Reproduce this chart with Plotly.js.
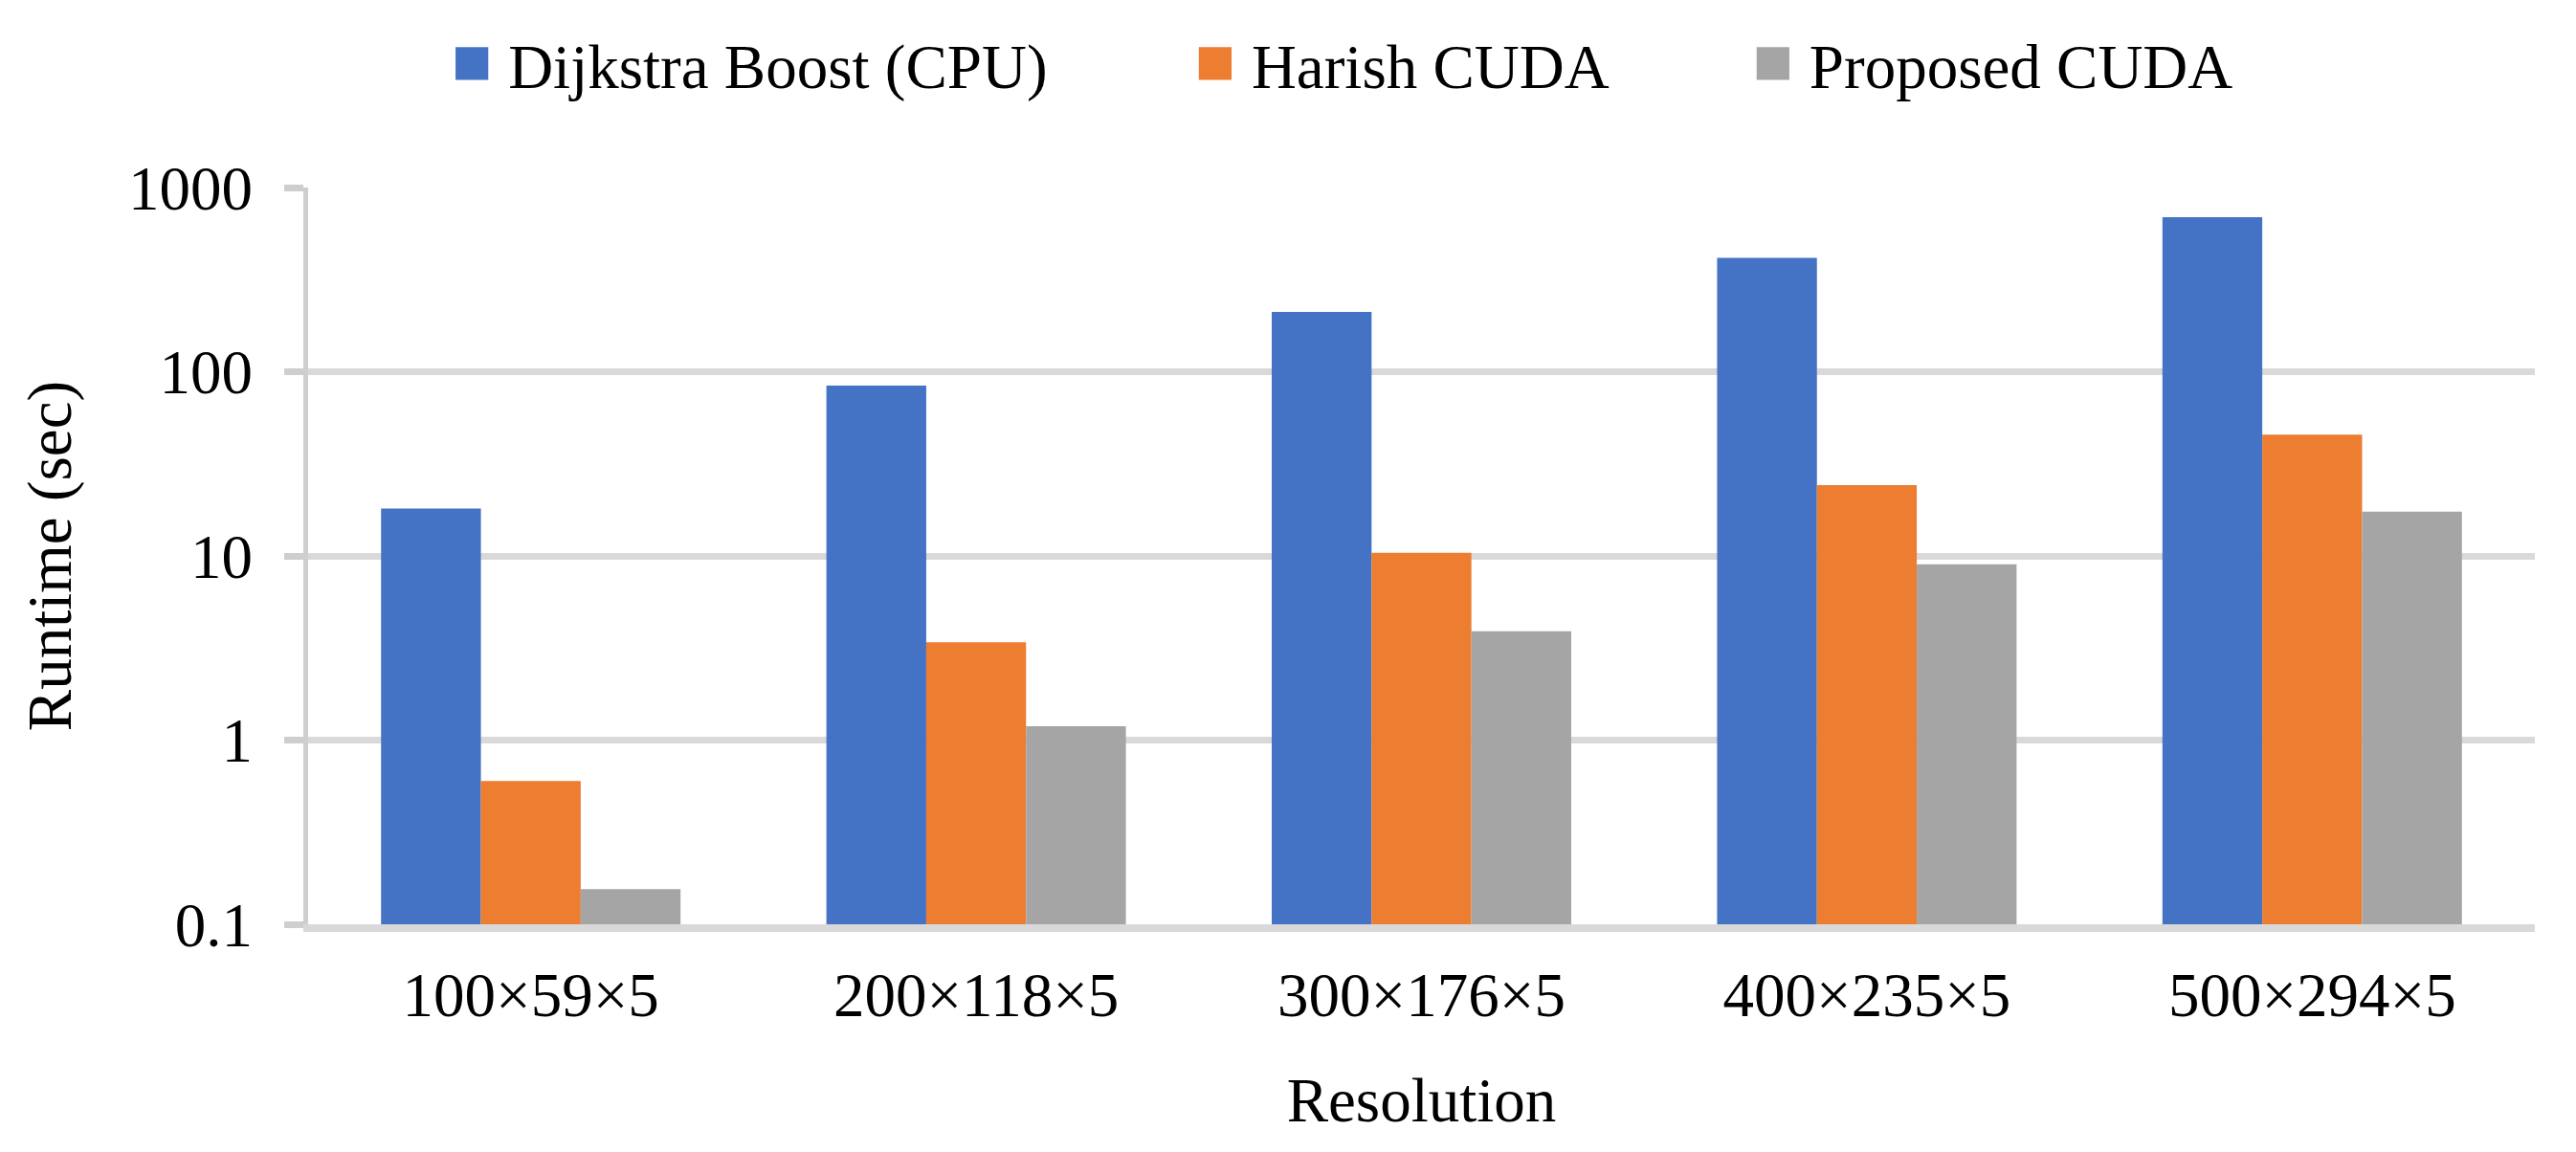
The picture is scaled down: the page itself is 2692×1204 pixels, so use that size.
<!DOCTYPE html>
<html>
<head>
<meta charset="utf-8">
<script src="https://cdn.plot.ly/plotly-3.0.1.min.js"></script>
<style>
  html, body { margin: 0; padding: 0; background: #ffffff; }
  #chart { width: 2692px; height: 1204px; }
</style>
</head>
<body>
<div id="chart"></div>
<script>
// ---- Data ----
const categories = ["100×59×5", "200×118×5", "300×176×5", "400×235×5", "500×294×5"];
const seriesNames = ["Dijkstra Boost (CPU)", "Harish CUDA", "Proposed CUDA"];
const dijkstraBoost = [18.1, 84, 211, 415, 690];
const harishCuda = [0.6, 3.4, 10.4, 24.2, 45.5];
const proposedCuda = [0.155, 1.19, 3.9, 9.0, 17.4];
const yTickValues = [0.1, 1, 10, 100, 1000];
const yTickLabels = ["0.1", "1", "10", "100", "1000"];

const colors = ["#4472C4", "#ED7D31", "#A5A5A5"];
const FONT = "'Liberation Serif', 'Times New Roman', Times, serif";
const FS = 65;

const seriesValues = [dijkstraBoost, harishCuda, proposedCuda];
const legendIds = ["legend", "legend2", "legend3"];

const traces = seriesValues.map((vals, i) => ({
  type: "bar",
  name: seriesNames[i],
  x: categories,
  y: vals,
  marker: { color: colors[i], line: { width: 0 } },
  legend: legendIds[i],
  hoverinfo: "x+y+name"
}));

const legendBase = {
  orientation: "h",
  xanchor: "left",
  yanchor: "middle",
  y: 1.168,
  font: { family: FONT, size: FS, color: "#000000" },
  bgcolor: "rgba(0,0,0,0)",
  borderwidth: 0
};

const layout = {
  width: 2692,
  height: 1204,
  paper_bgcolor: "#ffffff",
  plot_bgcolor: "#ffffff",
  margin: { l: 322, r: 43, t: 196, b: 238, pad: 0 },
  font: { family: FONT, size: FS, color: "#000000" },
  barmode: "group",
  bargap: 0.3275,
  bargroupgap: 0,
  showlegend: true,
  legend: Object.assign({}, legendBase, { x: 0.0727 }),
  legend2: Object.assign({}, legendBase, { x: 0.4065 }),
  legend3: Object.assign({}, legendBase, { x: 0.657 }),
  xaxis: {
    type: "category",
    showline: true,
    linecolor: "#D9D9D9",
    linewidth: 8,
    ticks: "",
    showgrid: false,
    zeroline: false,
    tickfont: { family: FONT, size: FS, color: "#000000" },
    ticklabelstandoff: 10,
    title: { text: "Resolution", font: { family: FONT, size: FS, color: "#000000" }, standoff: 54 }
  },
  yaxis: {
    type: "log",
    range: [-1, 3],
    tickmode: "array",
    tickvals: yTickValues,
    ticktext: yTickLabels,
    showline: true,
    linecolor: "#CFCDCD",
    linewidth: 5,
    ticks: "outside",
    ticklen: 20,
    tickwidth: 7,
    tickcolor: "#CFCDCD",
    showgrid: true,
    gridcolor: "#D9D9D9",
    gridwidth: 7,
    zeroline: false,
    tickfont: { family: FONT, size: FS, color: "#000000" },
    ticklabelstandoff: 20,
    title: { text: "Runtime (sec)", font: { family: FONT, size: FS, color: "#000000" }, standoff: 40 }
  }
};

Plotly.newPlot("chart", traces, layout, { displayModeBar: false, responsive: false }).then(() => {
  document.querySelectorAll(".scrollbox").forEach(e => e.removeAttribute("clip-path"));
  document.querySelectorAll(".legendpoints path").forEach(p => {
    const t = p.getAttribute("transform") || "";
    p.setAttribute("transform", t + " translate(-18,0) scale(2.85)");
  });
});
</script>
</body>
</html>
